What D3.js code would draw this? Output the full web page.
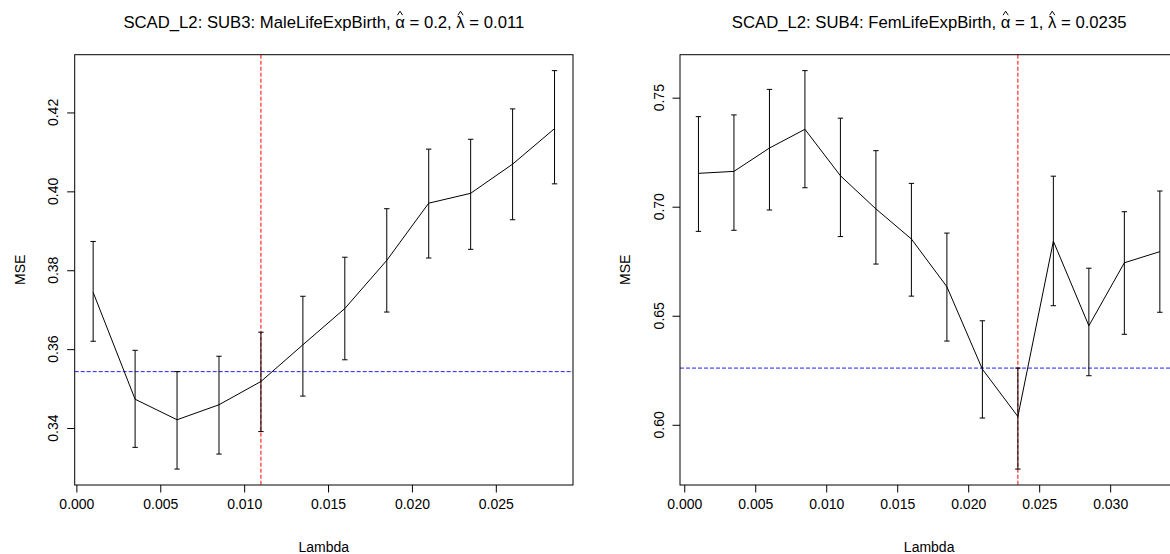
<!DOCTYPE html>
<html>
<head>
<meta charset="utf-8">
<script src="https://cdn.jsdelivr.net/npm/d3@7"></script>
<style>
  html, body { margin: 0; padding: 0; background: #fff; }
  svg { display: block; font-family: "Liberation Sans", Arial, sans-serif; }
</style>
</head>
<body>
<svg id="chart" width="1170" height="554"></svg>
<script>
// ---------- data ----------
const lambdaLeft = [0.001, 0.0035, 0.006, 0.0085, 0.011, 0.0135, 0.016, 0.0185, 0.021, 0.0235, 0.026, 0.0285];
const mseLeft    = [0.3744, 0.3473, 0.3421, 0.3459, 0.3518, 0.3611, 0.3703, 0.3825, 0.3970, 0.3995, 0.4069, 0.4159];
const upperLeft  = [0.3873, 0.3597, 0.3543, 0.3582, 0.3643, 0.3734, 0.3833, 0.3956, 0.4107, 0.4132, 0.4209, 0.4306];
const lowerLeft  = [0.3620, 0.3351, 0.3296, 0.3334, 0.3391, 0.3481, 0.3573, 0.3694, 0.3831, 0.3853, 0.3928, 0.4019];
const xTicksLeft = [0, 0.005, 0.010, 0.015, 0.020, 0.025];
const yTicksLeft = [0.34, 0.36, 0.38, 0.40, 0.42];
const hLineLeft = 0.3543;
const vLineLeft = 0.011;
const titleLeft = ["SCAD_L2: SUB3: MaleLifeExpBirth, ", "α", " = 0.2, ", "λ", " = 0.011"];

const lambdaRight = [0.001, 0.0035, 0.006, 0.0085, 0.011, 0.0135, 0.016, 0.0185, 0.021, 0.0235, 0.026, 0.0285, 0.031, 0.0335];
const mseRight    = [0.7153, 0.7162, 0.7269, 0.7355, 0.7142, 0.6990, 0.6852, 0.6633, 0.6255, 0.6038, 0.6842, 0.6454, 0.6743, 0.6794];
const upperRight  = [0.7413, 0.7421, 0.7538, 0.7624, 0.7406, 0.7257, 0.7107, 0.6879, 0.6477, 0.6260, 0.7140, 0.6718, 0.6977, 0.7072];
const lowerRight  = [0.6887, 0.6892, 0.6985, 0.7087, 0.6863, 0.6737, 0.6590, 0.6384, 0.6031, 0.5797, 0.6546, 0.6225, 0.6415, 0.6516];
const xTicksRight = [0, 0.005, 0.010, 0.015, 0.020, 0.025, 0.030];
const yTicksRight = [0.60, 0.65, 0.70, 0.75];
const hLineRight = 0.626;
const vLineRight = 0.0235;
const titleRight = ["SCAD_L2: SUB4: FemLifeExpBirth, ", "α", " = 1, ", "λ", " = 0.0235"];

const xLabel = "Lambda";
const yLabel = "MSE";

// ---------- drawing ----------
const svg = d3.select("#chart");

function panel(opts) {
  const {x0, x1, y0, y1, lam, mse, up, lo, xt, yt, hl, vl, title, yfmt} = opts;
  const g = svg.append("g");

  const xs = d3.extent(lam), xspan = xs[1] - xs[0];
  const ymin = d3.min(lo), ymax = d3.max(up), yspan = ymax - ymin;
  const x = d3.scaleLinear().domain([xs[0] - 0.04 * xspan, xs[1] + 0.04 * xspan]).range([x0, x1]);
  const y = d3.scaleLinear().domain([ymin - 0.04 * yspan, ymax + 0.04 * yspan]).range([y1, y0]);

  const clipId = "clip" + Math.round(x0);
  svg.append("clipPath").attr("id", clipId).append("rect")
    .attr("x", x0).attr("y", y0).attr("width", x1 - x0).attr("height", y1 - y0);

  const plot = g.append("g").attr("clip-path", `url(#${clipId})`);

  // reference lines
  plot.append("line")
    .attr("x1", x0).attr("x2", x1).attr("y1", y(hl)).attr("y2", y(hl))
    .attr("stroke", "#2020ff").attr("stroke-width", 1).attr("stroke-dasharray", "4,2");
  plot.append("line")
    .attr("x1", x(vl)).attr("x2", x(vl)).attr("y1", y0).attr("y2", y1)
    .attr("stroke", "#ff0000").attr("stroke-width", 1).attr("stroke-dasharray", "4,2");

  // error bars
  const idx = d3.range(lam.length);
  const cap = 2.7;
  const eb = plot.append("g").attr("stroke", "#000").attr("stroke-width", 1).attr("fill", "none");
  eb.selectAll("path").data(idx).join("path")
    .attr("d", i => {
      const cx = x(lam[i]), yu = y(up[i]), yl = y(lo[i]);
      return `M${cx},${yu}V${yl}M${cx - cap},${yu}H${cx + cap}M${cx - cap},${yl}H${cx + cap}`;
    });

  // mean line
  plot.append("path")
    .datum(idx)
    .attr("fill", "none").attr("stroke", "#000").attr("stroke-width", 1)
    .attr("d", d3.line().x(i => x(lam[i])).y(i => y(mse[i])));

  // box
  g.append("rect").attr("x", x0).attr("y", y0).attr("width", x1 - x0).attr("height", y1 - y0)
    .attr("fill", "none").attr("stroke", "#000").attr("stroke-width", 1);

  // x axis
  const xa = g.append("g").attr("transform", `translate(0,${y1})`)
    .call(d3.axisBottom(x).tickValues(xt).tickFormat(d3.format(".3f")).tickSize(7.5).tickPadding(7));
  xa.select(".domain").remove();
  xa.selectAll("text").attr("font-size", 14).attr("fill", "#000")
    .attr("font-family", "'Liberation Sans', Arial, sans-serif");
  xa.selectAll("line").attr("stroke", "#000");

  // y axis
  const ya = g.append("g").attr("transform", `translate(${x0},0)`)
    .call(d3.axisLeft(y).tickValues(yt).tickFormat(d3.format(yfmt)).tickSize(7.5));
  ya.select(".domain").remove();
  ya.selectAll("line").attr("stroke", "#000");
  ya.selectAll("text").remove();
  g.append("g").selectAll("text").data(yt).join("text")
    .attr("transform", d => `translate(${x0 - 16.5},${y(d)}) rotate(-90)`)
    .attr("text-anchor", "middle")
    .attr("font-size", 14).attr("fill", "#000")
    .text(d => d3.format(yfmt)(d));

  // axis labels
  g.append("text").attr("x", (x0 + x1) / 2).attr("y", 551.5)
    .attr("text-anchor", "middle").attr("font-size", 14).attr("fill", "#000").text(xLabel);
  g.append("text")
    .attr("transform", `translate(${x0 - 50},${(y0 + y1) / 2}) rotate(-90)`)
    .attr("text-anchor", "middle").attr("font-size", 14).attr("fill", "#000").text(yLabel);

  // title with hats
  const t = g.append("text").attr("x", (x0 + x1) / 2).attr("y", 28.3)
    .attr("text-anchor", "middle").attr("font-size", 16.7).attr("fill", "#000");
  title.forEach(s => t.append("tspan").text(s));
  const node = t.node();
  let pos = 0;
  title.forEach((s, k) => {
    if (k === 1 || k === 3) {
      const a = node.getStartPositionOfChar(pos).x;
      const b = node.getEndPositionOfChar(pos).x;
      const cx = (a + b) / 2;
      g.append("path")
        .attr("d", `M${cx - 2.6},15.2L${cx},11.2L${cx + 2.6},15.2`)
        .attr("fill", "none").attr("stroke", "#000").attr("stroke-width", 1);
    }
    pos += s.length;
  });
}

panel({x0: 74.7, x1: 573, y0: 54.7, y1: 485,
  lam: lambdaLeft, mse: mseLeft, up: upperLeft, lo: lowerLeft,
  xt: xTicksLeft, yt: yTicksLeft, hl: hLineLeft, vl: vLineLeft, title: titleLeft, yfmt: ".2f"});

panel({x0: 680, x1: 1178.3, y0: 54.7, y1: 485,
  lam: lambdaRight, mse: mseRight, up: upperRight, lo: lowerRight,
  xt: xTicksRight, yt: yTicksRight, hl: hLineRight, vl: vLineRight, title: titleRight, yfmt: ".2f"});
</script>
</body>
</html>
